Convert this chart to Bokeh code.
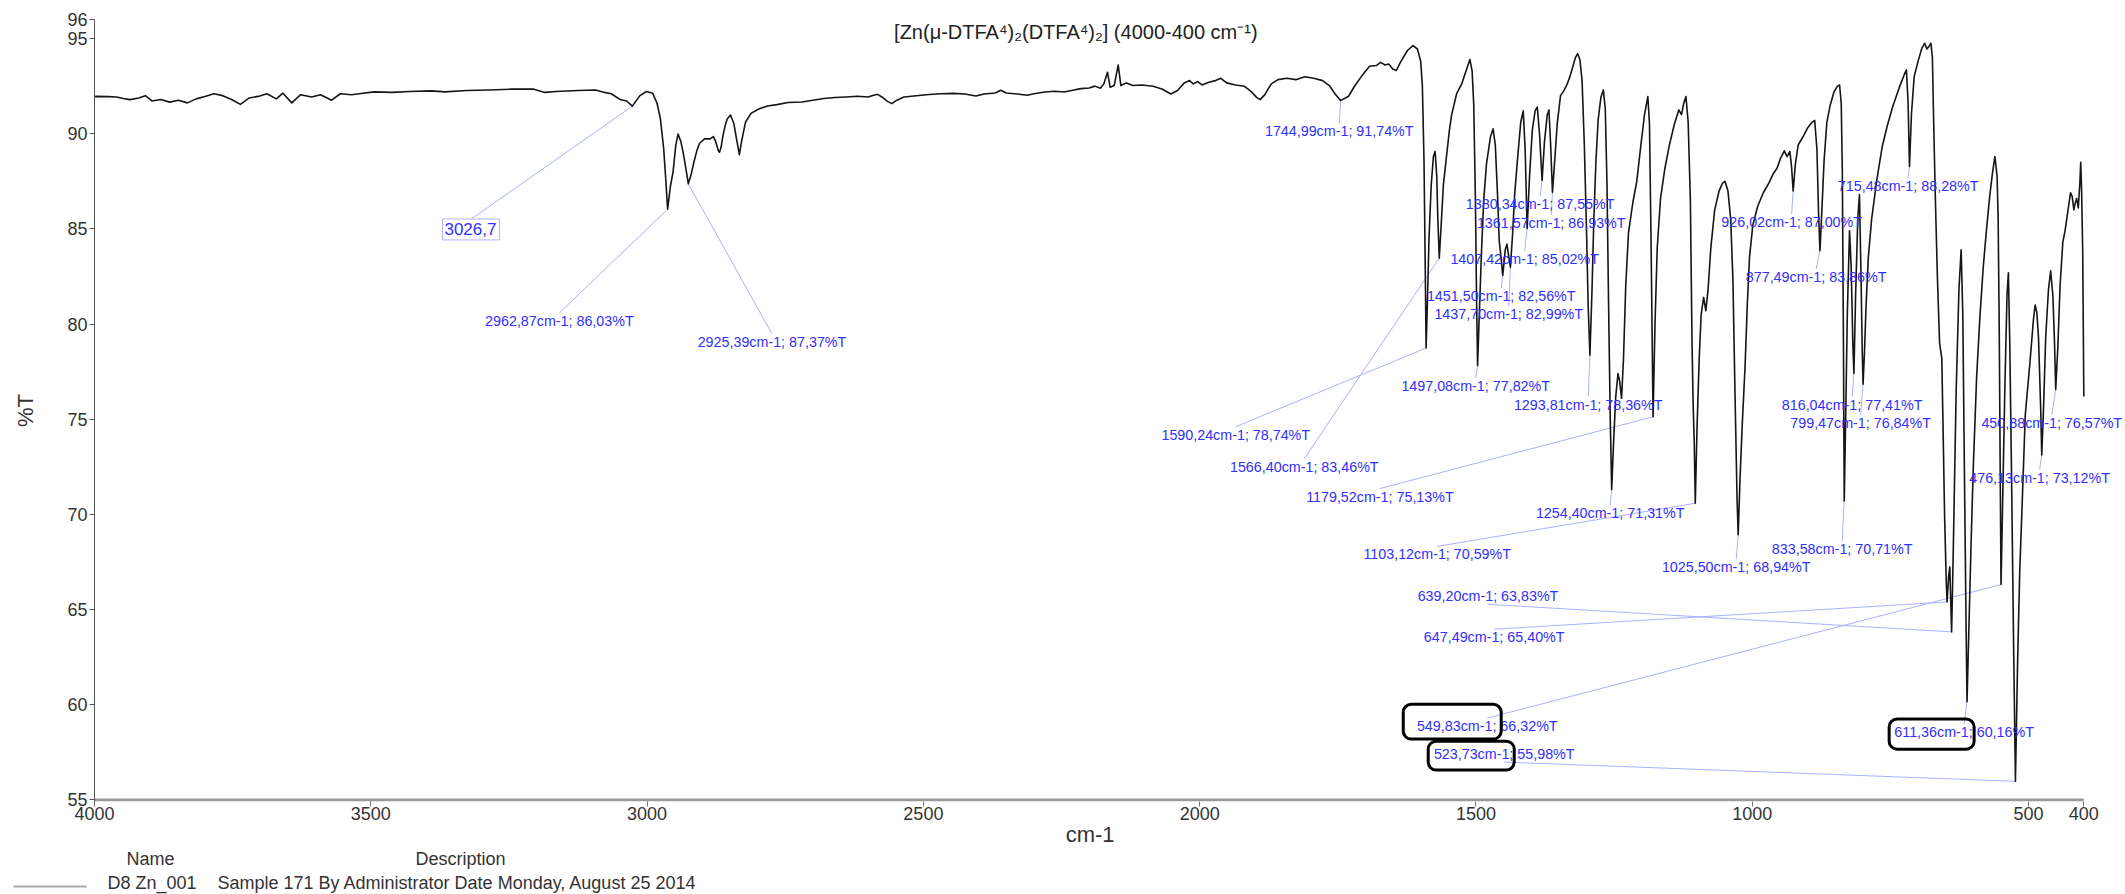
from bokeh.plotting import figure
from bokeh.layouts import column
from bokeh.models import Range1d, FixedTicker, Label, LabelSet, ColumnDataSource, BoxAnnotation
from bokeh.core.properties import value
from bokeh.embed import file_html
from bokeh.resources import INLINE

# ---------------- data: IR spectrum (wavenumber cm-1, %T) ----------------
WAVENUMBER = [
    4000, 3996, 3975, 3960, 3948, 3936, 3920, 3908, 3896, 3880, 3864, 3848, 3832, 3816, 3800, 3784,
    3768, 3752, 3736, 3720, 3704, 3688, 3671, 3659, 3643, 3627, 3607, 3591, 3571, 3555, 3535, 3514,
    3494, 3462, 3430, 3390, 3366, 3326, 3286, 3245, 3205, 3185, 3165, 3125, 3093, 3077, 3065, 3049,
    3037, 3026.7, 3013, 3001, 2990, 2982, 2976, 2970, 2966, 2962.87, 2958, 2953, 2948, 2944, 2939,
    2935, 2930, 2925.39, 2920, 2915, 2910, 2905, 2896, 2886, 2880, 2876, 2871, 2869, 2866, 2863,
    2859, 2855, 2849, 2843, 2838, 2833, 2829, 2822, 2812, 2798, 2782, 2765, 2745, 2720, 2700, 2680,
    2660, 2640, 2620, 2600, 2590, 2583, 2575, 2565, 2557, 2548, 2535, 2517, 2495, 2470, 2445, 2425,
    2405, 2390, 2370, 2360, 2350, 2330, 2312, 2300, 2280, 2262, 2245, 2230, 2215, 2200, 2189.5,
    2179.8, 2173.3, 2166.8, 2162, 2154.7, 2147.4, 2142.6, 2132.9, 2120.8, 2104.6, 2084.4, 2068.3,
    2052.1, 2040, 2027.9, 2018.2, 2011.7, 2003.7, 1995.6, 1983.5, 1971.3, 1961.7, 1951.2, 1935,
    1918.9, 1906.7, 1897, 1890.6, 1882.5, 1870.4, 1858.2, 1842.1, 1826, 1809.8, 1793.6, 1777.5,
    1765.3, 1754.9, 1744.99, 1730.6, 1720.9, 1706.4, 1692.7, 1680.5, 1672.5, 1664.4, 1657.9,
    1650.6, 1644.2, 1636.1, 1624, 1614, 1606, 1600, 1597, 1594, 1592,
    1590.24, 1588, 1585, 1581, 1577, 1574, 1571, 1569, 1566.4, 1563, 1559, 1553, 1548, 1544, 1535,
    1526, 1518, 1511, 1507, 1504, 1501, 1499, 1497.08, 1494, 1490, 1486, 1481, 1474, 1469, 1465,
    1461, 1458, 1455, 1451.5, 1447, 1444, 1441, 1437.7, 1434, 1430, 1425, 1419, 1414.5, 1411,
    1407.42, 1403, 1398, 1393, 1389, 1385, 1380.34, 1376, 1371, 1368, 1365, 1361.57, 1357, 1353,
    1347, 1341, 1335, 1330, 1324, 1320, 1316, 1312, 1308, 1304, 1300, 1297, 1293.81, 1290, 1287,
    1283, 1279, 1274, 1269.5, 1266, 1263, 1260, 1257, 1254.4, 1251, 1247, 1243, 1240, 1236.5, 1233,
    1229, 1224, 1216, 1209, 1202, 1195, 1189, 1186, 1183, 1179.52, 1176, 1172, 1166, 1158, 1150,
    1141, 1133, 1128, 1124, 1120, 1116, 1112, 1109, 1107, 1105, 1103.12, 1100, 1096, 1092.5, 1088,
    1084, 1080, 1075, 1068, 1060, 1054, 1049.5, 1044, 1039, 1035, 1031, 1027.5, 1025.5, 1022, 1018,
    1013, 1009, 1005, 999, 990, 980, 970, 962, 955, 949, 942, 937, 932, 929, 926.02, 922, 917, 909,
    900, 892, 887, 883, 880, 877.49, 874, 870, 865, 859, 852, 846, 842, 839, 837, 835, 833.58, 831,
    828, 824, 821, 818, 816.04, 813, 809, 806, 803, 801, 799.47, 797, 794, 790, 784, 775, 765, 755,
    745, 733, 725, 721, 718, 715.48, 712, 707, 700, 693, 688, 684, 680, 676.6, 674, 672, 669, 665,
    661, 657, 655, 652, 649, 647.49, 644.5, 642.5, 641, 639.2, 636, 631, 626, 622, 619, 616, 613,
    611.36, 608, 604, 600, 594, 588, 582, 576, 570, 565, 561, 557, 555, 553, 551, 549.83, 547, 543,
    539, 536.5, 534, 531, 527, 523.73, 520, 516, 512, 506, 497, 491, 488, 485, 482, 478, 476.13, 473,
    469, 464, 460, 456, 453, 450.88, 447, 443, 438, 434, 428, 424, 421, 418, 416, 413, 410, 407,
    405.6, 404, 402, 400,
]
TRANSMITTANCE = [
    91.95, 91.96, 91.95, 91.93, 91.85, 91.79, 91.88, 92.0, 91.72, 91.8, 91.66, 91.76, 91.62, 91.83, 91.96, 92.1,
    92.0, 91.8, 91.54, 91.88, 91.96, 92.1, 91.83, 92.13, 91.62, 92.05, 91.93, 92.05, 91.76, 92.1, 92.05, 92.13,
    92.2, 92.17, 92.22, 92.25, 92.2, 92.27, 92.3, 92.34, 92.34, 92.17, 92.22, 92.27, 92.3, 92.17, 92.1, 91.8,
    91.72, 91.45, 92.0, 92.22, 92.13, 91.6, 90.8, 89.23, 87.5, 86.03, 87.2, 88.0, 89.4, 89.98, 89.6,
    89.06, 88.2, 87.37, 87.9, 88.54, 89.1, 89.5, 89.73, 89.73, 89.85, 89.6, 89.1, 89.03, 89.3, 89.85,
    90.4, 90.77, 90.98, 90.54, 89.7, 88.9, 89.6, 90.6, 91.07, 91.3, 91.46, 91.53, 91.64, 91.67, 91.76, 91.85,
    91.9, 91.93, 91.97, 91.93, 92.02, 92.07, 91.93, 91.7, 91.58, 91.76, 91.93, 91.98, 92.05, 92.1, 92.12, 92.09,
    91.98, 92.09, 92.14, 92.28, 92.14, 92.09, 92.02, 92.1, 92.19, 92.23, 92.19, 92.28, 92.37, 92.4, 92.5,
    92.39, 92.62, 93.23, 92.44, 92.53, 93.61, 92.53, 92.67, 92.53, 92.56, 92.49, 92.35,
    92.09, 92.27, 92.67, 92.79, 92.62, 92.74, 92.56, 92.7, 92.79, 92.91, 92.67, 92.56,
    92.49, 92.21, 91.91, 91.79, 92.04, 92.62, 92.84, 92.91, 92.84, 92.99, 92.91, 92.79,
    92.53, 92.09, 91.74, 91.97, 92.44, 93.05, 93.54, 93.58, 93.75, 93.61, 93.66,
    93.4, 93.32, 93.79, 94.37, 94.63, 94.45, 93.8, 92.5, 88.5, 83.5,
    78.74, 81.0, 84.5, 87.3, 88.8, 89.07, 87.8, 85.5, 83.46, 85.2, 87.3, 88.9, 90.2, 91.0, 92.1,
    92.6, 93.3, 93.9, 93.3, 91.5, 86.5, 81.5, 77.82, 80.5, 83.8, 86.5, 88.4, 89.8, 90.26, 89.4,
    86.8, 84.4, 83.6, 82.56, 83.9, 84.2, 83.6, 82.99, 84.6, 86.8, 88.6, 90.6, 91.2, 89.2,
    85.02, 87.8, 90.2, 91.2, 91.4, 90.0, 87.55, 89.6, 91.0, 91.25, 89.5, 86.93, 88.8, 90.5,
    92.0, 92.25, 92.6, 93.0, 93.6, 94.0, 94.2, 93.9, 92.8, 89.5, 85.0, 81.0, 78.36, 81.8, 85.2,
    88.5, 90.7, 91.9, 92.3, 91.3, 87.5, 81.0, 75.0, 71.31, 73.8, 76.2, 77.4, 77.0, 76.1, 78.2,
    82.0, 84.8, 86.4, 87.5, 89.3, 91.0, 91.95, 90.5, 84.0, 75.13, 80.0, 84.0, 86.6, 88.2, 89.4,
    90.5, 91.25, 91.0, 91.6, 91.95, 90.6, 86.5, 79.0, 75.8, 73.8, 70.59, 74.5, 78.2, 80.5, 81.4,
    80.7, 81.8, 84.0, 86.0, 87.0, 87.4, 87.5, 87.0, 85.5, 82.3, 76.0, 70.8, 68.94, 72.0, 74.8,
    77.8, 81.0, 83.5, 85.2, 86.2, 86.9, 87.4, 87.9, 88.2, 88.7, 89.1, 88.8, 89.07, 88.3, 87.0, 88.4, 89.4, 89.8,
    90.3, 90.6, 90.7, 89.2, 85.8, 83.86, 86.0, 88.6, 90.6, 91.5, 92.2, 92.5, 92.56, 91.6, 88.0, 79.0, 70.71, 75.0,
    80.5, 84.9, 83.0, 79.0, 77.41, 81.5, 85.6, 86.8, 82.2, 78.6, 76.84, 78.5, 81.0, 83.5, 85.5, 87.5, 89.3, 90.5,
    91.5, 92.5, 93.1, 93.35, 91.6, 88.28, 91.0, 93.0, 93.8, 94.5, 94.75, 94.45, 94.6, 94.75, 94.0, 91.0, 87.0, 82.5,
    79.0, 78.2, 75.0, 70.0, 66.5, 65.4, 66.8, 67.24, 65.6, 63.83, 68.5, 76.5, 81.8, 83.9, 80.5, 72.0, 64.0,
    60.16, 64.0, 68.5, 72.5, 77.2, 80.4, 83.0, 85.0, 86.8, 88.0, 88.8, 87.8, 85.5, 79.5, 71.0, 66.32, 70.5, 76.5,
    81.5, 82.7, 79.0, 72.5, 63.0, 55.98, 62.0, 67.0, 70.2, 75.2, 78.15, 80.3, 81.0, 80.6, 79.3, 75.5, 73.12, 75.5,
    79.3, 81.8, 82.8, 81.5, 79.0, 76.57, 78.8, 82.0, 84.3, 84.9, 86.1, 86.9, 86.7, 86.0, 86.3, 86.6, 86.1, 87.5,
    88.5, 87.0, 83.8, 76.2,
]

X_TICKS = [4000, 3500, 3000, 2500, 2000, 1500, 1000, 500, 400]
Y_TICKS = [55, 60, 65, 70, 75, 80, 85, 90, 95, 96]
X_START, X_END = 4000, 400
Y_MIN, Y_MAX = 55, 96

# picked peaks (values as printed on the chart)
PEAK_WN = [2962.87, 2925.39, 1744.99, 1590.24, 1566.40, 1497.08, 1451.50, 1437.70, 1407.42, 1380.34,
           1361.57, 1293.81, 1254.40, 1179.52, 1103.12, 1025.50, 926.02, 877.49, 833.58, 816.04,
           799.47, 715.48, 647.49, 639.20, 611.36, 549.83, 523.73, 476.13, 450.88]
PEAK_T = [86.03, 87.37, 91.74, 78.74, 83.46, 77.82, 82.56, 82.99, 85.02, 87.55,
          86.93, 78.36, 71.31, 75.13, 70.59, 68.94, 87.00, 83.86, 70.71, 77.41,
          76.84, 88.28, 65.40, 63.83, 60.16, 66.32, 55.98, 73.12, 76.57]
MARKED_WN = 3026.7
MARKED_T = 91.45

# layout of the peak labels (centre of each text, in axis units) and where the leader meets it
LABEL_X = [3158.7, 2774.0, 1747.4, 1934.7, 1810.7, 1500.5, 1454.3, 1440.7, 1411.8, 1383.8,
           1363.8, 1296.9, 1257.1, 1673.8, 1570.1, 1029.1, 928.7, 884.4, 837.3, 819.3,
           803.9, 717.9, 1467.0, 1478.2, 616.6, 1479.6, 1448.9, 480.0, 458.0]
LABEL_Y = [80.17, 79.07, 90.13, 74.19, 72.51, 76.76, 81.48, 80.54, 83.42, 86.31,
           85.31, 75.77, 70.05, 70.94, 67.90, 67.22, 85.36, 82.48, 68.16, 75.77,
           74.82, 87.25, 63.55, 65.70, 58.57, 58.88, 57.41, 71.94, 74.82]
LEADER_SIDE = [1] * 23 + [-1] + [1, 1, -1, 1, 1]

TITLE = "[Zn(\u03bc-DTFA\u2074)\u2082(DTFA\u2074)\u2082] (4000-400 cm\u207b\u00b9)"
X_LABEL = "cm-1"
Y_LABEL = "%T"
LEGEND_HEAD = ["Name", "Description"]
LEGEND_NAME = "D8 Zn_001"
LEGEND_DESC = "Sample 171 By Administrator Date Monday, August 25 2014"

BLUE = "#3030ff"
LEADER = "#aab0ff"
FONT = "Liberation Sans"
TXT = "#333333"
W, H_MAIN, H_LEG = 2125, 849, 45


def fmt(v):
    return f"{v:.2f}".replace(".", ",")


labels = [f"{fmt(w)}cm-1; {fmt(t)}%T" for w, t in zip(PEAK_WN, PEAK_T)]
end_y = [y + s * 0.42 for y, s in zip(LABEL_Y, LEADER_SIDE)]

p = figure(width=W, height=H_MAIN, output_backend="svg", toolbar_location=None,
           x_range=Range1d(X_START, 330), y_range=Range1d(Y_MIN - 0.08, Y_MAX),
           min_border_left=94, min_border_right=3, min_border_top=19, min_border_bottom=48)
p.background_fill_color = "white"
p.border_fill_color = "white"
p.outline_line_color = None
p.grid.visible = False

for ax in (p.xaxis[0], p.yaxis[0]):
    ax.major_label_text_font = FONT
    ax.major_label_text_font_size = "18px"
    ax.major_label_text_color = TXT
    ax.axis_label_text_font = FONT
    ax.axis_label_text_font_size = "22px"
    ax.axis_label_text_font_style = "normal"
    ax.axis_label_text_color = TXT
    ax.minor_tick_line_color = None
    ax.major_tick_in = 0
    ax.major_tick_out = 5

p.xaxis.ticker = FixedTicker(ticks=X_TICKS)
p.yaxis.ticker = FixedTicker(ticks=Y_TICKS)
# the frame runs a little past 400 (room for the right-hand labels); pad the label so it
# stays centred under the 4000..400 axis
p.xaxis.axis_label = X_LABEL + "\u00a0" * 6
p.yaxis.axis_label = Y_LABEL
p.xaxis.axis_line_color = None
p.xaxis.major_tick_line_color = "#777777"
p.xaxis.major_label_standoff = 0
p.xaxis.axis_label_standoff = -1
p.yaxis.axis_line_color = "#555555"
p.yaxis.axis_line_width = 1
p.yaxis.major_tick_line_color = "#555555"
p.yaxis.major_label_standoff = 2
p.yaxis.axis_label_standoff = 26

# x axis baseline, spanning exactly 4000..400
p.segment(x0=[X_START], y0=[Y_MIN], x1=[X_END], y1=[Y_MIN], line_color="#9a9a9a", line_width=3)

# leader lines
p.segment(x0=PEAK_WN, y0=PEAK_T, x1=LABEL_X, y1=end_y, line_color=LEADER, line_width=1)
p.segment(x0=[MARKED_WN], y0=[MARKED_T], x1=[3318.0], y1=[85.52], line_color=LEADER, line_width=1)

# spectrum
p.line(WAVENUMBER, TRANSMITTANCE, line_color="#151515", line_width=1.6, line_join="round")

# peak labels
src = ColumnDataSource(dict(x=LABEL_X, y=LABEL_Y, text=labels))
p.add_layout(LabelSet(x="x", y="y", text="text", source=src, text_align="center",
                      text_baseline="middle", text_font=value(FONT),
                      text_font_size="14.3px", text_color=BLUE))

# boxed marker label
p.add_layout(BoxAnnotation(left=3370.4, right=3267.2, bottom=84.42, top=85.52, fill_color=None,
                           line_color="#b0b4ff", line_alpha=1, line_width=1))
p.add_layout(Label(x=3319.7, y=84.97, text=f"{MARKED_WN:.1f}".replace(".", ","), text_align="center",
                   text_baseline="middle", text_font=FONT, text_font_size="17px",
                   text_color=BLUE))

# hand-drawn highlight boxes
for l, r, b, t in [(1631.6, 1454.3, 58.2, 60.03), (1586.4, 1430.8, 56.57, 58.09), (752.3, 598.5, 57.67, 59.25)]:
    p.add_layout(BoxAnnotation(left=l, right=r, bottom=b, top=t, fill_color=None,
                               line_color="black", line_alpha=1, line_width=3, border_radius=8))

# title
p.add_layout(Label(x=2224.1, y=95.35, text=TITLE, text_align="center", text_baseline="middle",
                   text_font=FONT, text_font_size="20px", text_color="#222222"))

# legend block below the chart (separate strip, pixel coordinates, y downward)
lg = figure(width=W, height=H_LEG, output_backend="svg", toolbar_location=None,
            x_range=Range1d(0, W), y_range=Range1d(H_LEG, 0),
            min_border=0, x_axis_location=None, y_axis_location=None)
if "frame_align" in lg.properties():
    lg.frame_align = False
lg.background_fill_color = "white"
lg.border_fill_color = "white"
lg.outline_line_color = None
lg.grid.visible = False
lg.text(x=[150, 460], y=[9, 9], text=LEGEND_HEAD, text_align="center", text_baseline="middle",
        text_font=value(FONT), text_font_size="18px", text_color=TXT)
lg.text(x=[107], y=[33], text=[LEGEND_NAME], text_align="left", text_baseline="middle",
        text_font=value(FONT), text_font_size="18px", text_color=TXT)
lg.text(x=[217], y=[33], text=[LEGEND_DESC], text_align="left", text_baseline="middle",
        text_font=value(FONT), text_font_size="18px", text_color=TXT)
lg.segment(x0=[13], y0=[37], x1=[86], y1=[37], line_color="#a8a8a8", line_width=2)

layout = column(p, lg, spacing=0)
open("out.html", "w").write(file_html(layout, INLINE))
